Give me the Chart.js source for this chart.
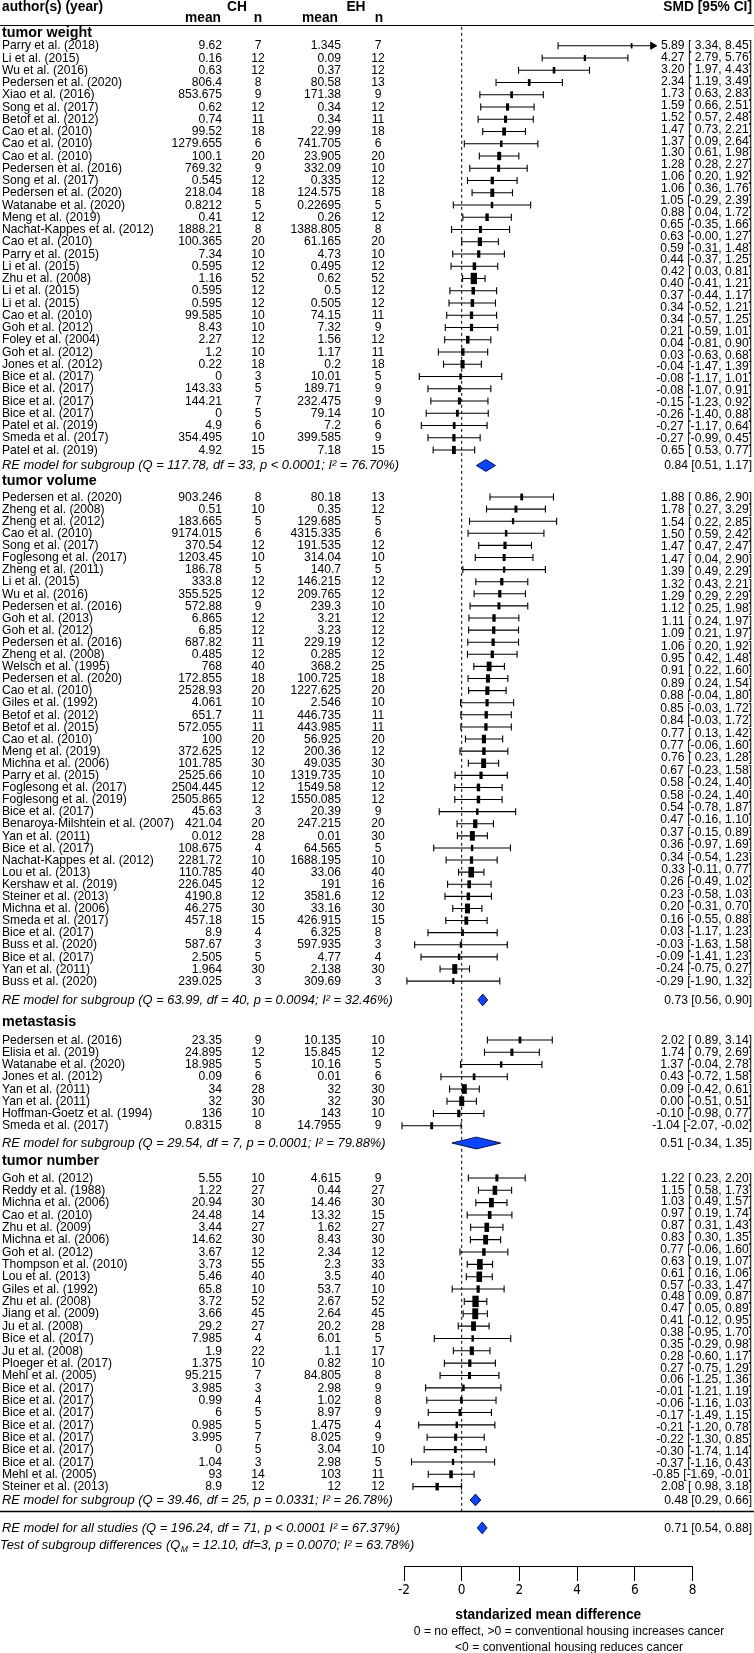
<!DOCTYPE html>
<html>
<head>
<meta charset="utf-8">
<title>Forest plot - conventional vs enriched housing</title>
<script src="https://cdn.jsdelivr.net/npm/chart.js@4.4.0/dist/chart.umd.min.js"></script>
<style>
    html, body { margin: 0; padding: 0; background: #fff; }
    canvas { display: block; }
</style>
</head>
<body>
<canvas id="forest" width="754" height="1653"></canvas>
<script>
// ---- tumor weight ----
const weightAuthors = ['Parry et al. (2018)','Li et al. (2015)','Wu et al. (2016)','Pedersen et al. (2020)','Xiao et al. (2016)','Song et al. (2017)','Betof et al. (2012)','Cao et al. (2010)','Cao et al. (2010)','Cao et al. (2010)','Pedersen et al. (2016)','Song et al. (2017)','Pedersen et al. (2020)','Watanabe et al. (2020)','Meng et al. (2019)','Nachat-Kappes et al. (2012)','Cao et al. (2010)','Parry et al. (2015)','Li et al. (2015)','Zhu et al. (2008)','Li et al. (2015)','Li et al. (2015)','Cao et al. (2010)','Goh et al. (2012)','Foley et al. (2004)','Goh et al. (2012)','Jones et al. (2012)','Bice et al. (2017)','Bice et al. (2017)','Bice et al. (2017)','Bice et al. (2017)','Patel et al. (2019)','Smeda et al. (2017)','Patel et al. (2019)'];
const weightChMean = [9.62,0.16,0.63,806.4,853.675,0.62,0.74,99.52,1279.655,100.1,769.32,0.545,218.04,0.8212,0.41,1888.21,100.365,7.34,0.595,1.16,0.595,0.595,99.585,8.43,2.27,1.2,0.22,0,143.33,144.21,0,4.9,354.495,4.92];
const weightChN = [7,12,12,8,9,12,11,18,6,20,9,12,18,5,12,8,20,10,12,52,12,12,10,10,12,10,18,3,5,7,5,6,10,15];
const weightEhMean = [1.345,0.09,0.37,80.58,171.38,0.34,0.34,22.99,741.705,23.905,332.09,0.335,124.575,0.22695,0.26,1388.805,61.165,4.73,0.495,0.62,0.5,0.505,74.15,7.32,1.56,1.17,0.2,10.01,189.71,232.475,79.14,7.2,399.585,7.18];
const weightEhN = [7,12,12,13,9,12,11,18,6,20,10,12,18,5,12,8,20,10,12,52,12,12,11,9,12,11,18,5,9,9,10,6,9,15];
const weightEst = [5.89,4.27,3.20,2.34,1.73,1.59,1.52,1.47,1.37,1.30,1.28,1.06,1.06,1.05,0.88,0.65,0.63,0.59,0.44,0.42,0.40,0.37,0.34,0.34,0.21,0.04,0.03,-0.04,-0.08,-0.08,-0.15,-0.26,-0.27,-0.27];
const weightLo = [3.34,2.79,1.97,1.19,0.63,0.66,0.57,0.73,0.09,0.61,0.28,0.20,0.36,-0.29,0.04,-0.35,-0.00,-0.31,-0.37,0.03,-0.41,-0.44,-0.52,-0.57,-0.59,-0.81,-0.63,-1.47,-1.17,-1.07,-1.23,-1.40,-1.17,-0.99];
const weightHi = [8.45,5.76,4.43,3.49,2.83,2.51,2.48,2.21,2.64,1.98,2.27,1.92,1.76,2.39,1.72,1.66,1.27,1.48,1.25,0.81,1.21,1.17,1.21,1.25,1.01,0.90,0.68,1.39,1.01,0.91,0.92,0.88,0.64,0.45];

// ---- tumor volume ----
const volumeAuthors = ['Pedersen et al. (2020)','Zheng et al. (2008)','Zheng et al. (2012)','Cao et al. (2010)','Song et al. (2017)','Foglesong et al. (2017)','Zheng et al. (2011)','Li et al. (2015)','Wu et al. (2016)','Pedersen et al. (2016)','Goh et al. (2013)','Goh et al. (2012)','Pedersen et al. (2016)','Zheng et al. (2008)','Welsch et al. (1995)','Pedersen et al. (2020)','Cao et al. (2010)','Giles et al. (1992)','Betof et al. (2012)','Betof et al. (2015)','Cao et al. (2010)','Meng et al. (2019)','Michna et al. (2006)','Parry et al. (2015)','Foglesong et al. (2017)','Foglesong et al. (2019)','Bice et al. (2017)','Benaroya-Milshtein et al. (2007)','Yan et al. (2011)','Bice et al. (2017)','Nachat-Kappes et al. (2012)','Lou et al. (2013)','Kershaw et al. (2019)','Steiner et al. (2013)','Michna et al. (2006)','Smeda et al. (2017)','Bice et al. (2017)','Buss et al. (2020)','Bice et al. (2017)','Yan et al. (2011)','Buss et al. (2020)'];
const volumeChMean = [903.246,0.51,183.665,9174.015,370.54,1203.45,186.78,333.8,355.525,572.88,6.865,6.85,687.82,0.485,768,172.855,2528.93,4.061,651.7,572.055,100,372.625,101.785,2525.66,2504.445,2505.865,45.63,421.04,0.012,108.675,2281.72,110.785,226.045,4190.8,46.275,457.18,8.9,587.67,2.505,1.964,239.025];
const volumeChN = [8,10,5,6,12,10,5,12,12,9,12,12,11,12,40,18,20,10,11,11,20,12,30,10,12,12,3,20,28,4,10,40,12,12,30,15,4,3,5,30,3];
const volumeEhMean = [80.18,0.35,129.685,4315.335,191.535,314.04,140.7,146.215,209.765,239.3,3.21,3.23,229.19,0.285,368.2,100.725,1227.625,2.546,446.735,443.985,56.925,200.36,49.035,1319.735,1549.58,1550.085,20.39,247.215,0.01,64.565,1688.195,33.06,191,3581.6,33.16,426.915,6.325,597.935,4.77,2.138,309.69];
const volumeEhN = [13,12,5,6,12,10,5,12,12,10,12,12,12,12,25,18,20,10,11,11,20,12,30,10,12,12,9,20,30,5,10,40,16,12,30,15,8,3,4,30,3];
const volumeEst = [2.08,1.88,1.78,1.54,1.50,1.47,1.47,1.39,1.32,1.29,1.12,1.11,1.09,1.06,0.95,0.91,0.89,0.88,0.85,0.84,0.77,0.77,0.76,0.67,0.58,0.58,0.54,0.47,0.37,0.36,0.34,0.33,0.26,0.23,0.20,0.16,0.03,-0.03,-0.09,-0.24,-0.29];
const volumeLo = [0.98,0.86,0.27,0.22,0.59,0.47,0.04,0.49,0.43,0.29,0.25,0.24,0.21,0.20,0.42,0.22,0.24,-0.04,-0.03,-0.03,0.13,-0.06,0.23,-0.23,-0.24,-0.24,-0.78,-0.16,-0.15,-0.97,-0.54,-0.11,-0.49,-0.58,-0.31,-0.55,-1.17,-1.63,-1.41,-0.75,-1.90];
const volumeHi = [3.18,2.90,3.29,2.85,2.42,2.47,2.90,2.29,2.21,2.29,1.98,1.97,1.97,1.92,1.48,1.60,1.54,1.80,1.72,1.72,1.42,1.60,1.28,1.58,1.40,1.40,1.87,1.10,0.89,1.69,1.23,0.77,1.02,1.03,0.70,0.88,1.23,1.58,1.23,0.27,1.32];

// ---- metastasis ----
const metAuthors = ['Pedersen et al. (2016)','Elisia et al. (2019)','Watanabe et al. (2020)','Jones et al. (2012)','Yan et al. (2011)','Yan et al. (2011)','Hoffman-Goetz et al. (1994)','Smeda et al. (2017)'];
const metChMean = [23.35,24.895,18.985,0.09,34,32,136,0.8315];
const metChN = [9,12,5,6,28,30,10,8];
const metEhMean = [10.135,15.845,10.16,0.01,32,32,143,14.7955];
const metEhN = [10,12,5,6,30,30,10,9];
const metEst = [2.02,1.74,1.37,0.43,0.09,0.00,-0.10,-1.04];
const metLo = [0.89,0.79,-0.04,-0.72,-0.42,-0.51,-0.98,-2.07];
const metHi = [3.14,2.69,2.78,1.58,0.61,0.51,0.77,-0.02];

// ---- tumor number ----
const numberAuthors = ['Goh et al. (2012)','Reddy et al. (1988)','Michna et al. (2006)','Cao et al. (2010)','Zhu et al. (2009)','Michna et al. (2006)','Goh et al. (2012)','Thompson et al. (2010)','Lou et al. (2013)','Giles et al. (1992)','Zhu et al. (2008)','Jiang et al. (2009)','Ju et al. (2008)','Bice et al. (2017)','Ju et al. (2008)','Ploeger et al. (2017)','Mehl et al. (2005)','Bice et al. (2017)','Bice et al. (2017)','Bice et al. (2017)','Bice et al. (2017)','Bice et al. (2017)','Bice et al. (2017)','Bice et al. (2017)','Mehl et al. (2005)','Steiner et al. (2013)'];
const numberChMean = [5.55,1.22,20.94,24.48,3.44,14.62,3.67,3.73,5.46,65.8,3.72,3.66,29.2,7.985,1.9,1.375,95.215,3.985,0.99,6,0.985,3.995,0,1.04,93,8.9];
const numberChN = [10,27,30,14,27,30,12,55,40,10,52,45,27,4,22,10,7,3,4,5,5,7,5,3,14,12];
const numberEhMean = [4.615,0.44,14.46,13.32,1.62,8.43,2.34,2.3,3.5,53.7,2.67,2.64,20.2,6.01,1.1,0.82,84.805,2.98,1.02,8.97,1.475,8.025,3.04,2.98,103,12];
const numberEhN = [9,27,30,15,27,30,12,33,40,10,52,45,28,5,17,10,8,9,8,9,4,9,10,5,11,12];
const numberEst = [1.22,1.15,1.03,0.97,0.87,0.83,0.77,0.63,0.61,0.57,0.48,0.47,0.41,0.38,0.35,0.28,0.27,0.06,-0.01,-0.06,-0.17,-0.21,-0.22,-0.30,-0.37,-0.85];
const numberLo = [0.23,0.58,0.49,0.19,0.31,0.30,-0.06,0.19,0.16,-0.33,0.09,0.05,-0.12,-0.95,-0.29,-0.60,-0.75,-1.25,-1.21,-1.16,-1.49,-1.20,-1.30,-1.74,-1.16,-1.69];
const numberHi = [2.20,1.73,1.57,1.74,1.43,1.35,1.60,1.07,1.06,1.47,0.87,0.89,0.95,1.70,0.98,1.17,1.29,1.36,1.19,1.03,1.15,0.78,0.85,1.14,0.43,-0.01];

// ---- random-effects summaries ----
const groupTitles = ['tumor weight','tumor volume','metastasis','tumor number'];
const reLabels = [
    'RE model for subgroup (Q = 117.78, df = 33, p < 0.0001; I\u00b2 = 76.70%)',
    'RE model for subgroup (Q = 63.99, df = 40, p = 0.0094; I\u00b2 = 32.46%)',
    'RE model for subgroup (Q = 29.54, df = 7, p = 0.0001; I\u00b2 = 79.88%)',
    'RE model for subgroup (Q = 39.46, df = 25, p = 0.0331; I\u00b2 = 26.78%)'
];
const reEst = [0.84,0.73,0.51,0.48];
const reLo = [0.51,0.56,-0.34,0.29];
const reHi = [1.17,0.90,1.35,0.66];
const allLabel = 'RE model for all studies (Q = 196.24, df = 71, p < 0.0001 I\u00b2 = 67.37%)';
const allEst = 0.71, allLo = 0.54, allHi = 0.88;
// stray line printed at the end of the tumor weight column in the source
const weightExtraText = '0.65 [ 0.53, 0.77]';

const xTicks = [-2, 0, 2, 4, 6, 8];

// ---- layout (row units, 1 unit = 12.25 px) ----
const headRows = [0.69, 37.22, 81.39, 92.73];
const firstRows = [1.694, 38.53, 82.86, 94.12];
const rowStep = [1, 0.988, 1, 1.008];
const reRows = [35.96, 79.59, 91.27, 120.41];
const SEP_ROW = 121.35, ALL_ROW = 122.69, TEST_ROW = 124.12, Y_MAX = 125.8;
const X_CLIP = 6.62;   // right edge of the plotting region
const HALF_DIAMOND = 0.48;

const groups = [
    { authors: weightAuthors, chMean: weightChMean, chN: weightChN, ehMean: weightEhMean, ehN: weightEhN, est: weightEst, lo: weightLo, hi: weightHi },
    { authors: volumeAuthors, chMean: volumeChMean, chN: volumeChN, ehMean: volumeEhMean, ehN: volumeEhN, est: volumeEst, lo: volumeLo, hi: volumeHi },
    { authors: metAuthors, chMean: metChMean, chN: metChN, ehMean: metEhMean, ehN: metEhN, est: metEst, lo: metLo, hi: metHi },
    { authors: numberAuthors, chMean: numberChMean, chN: numberChN, ehMean: numberEhMean, ehN: numberEhN, est: numberEst, lo: numberLo, hi: numberHi }
];
const rowPos = (gi, i) => firstRows[gi] + i * rowStep[gi];

function f2(v) {
    const neg = v < 0 || Object.is(v, -0);
    return (neg ? '-' : '') + Math.abs(v).toFixed(2);
}
function ciText(e, l, h) {
    const pad = (l < 0 || Object.is(l, -0)) ? '' : ' ';
    return f2(e) + ' [' + pad + f2(l) + ', ' + f2(h) + ']';
}
function reText(e, l, h) { return f2(e) + ' [' + f2(l) + ', ' + f2(h) + ']'; }

const groupCi = groups.map(g => g.est.map((e, i) => ciText(e, g.lo[i], g.hi[i])));
// right-hand column as printed in the figure (it is shifted by one line in places)
const printedCols = [
    groupCi[0].concat([weightExtraText]),
    groupCi[1].slice(1),
    groupCi[2],
    groupCi[3].concat([groupCi[1][0]])
];

// flatten study rows
const rows = [];
groups.forEach((g, gi) => g.est.forEach((e, i) => {
    rows.push({ y: rowPos(gi, i), est: e, lo: g.lo[i], hi: g.hi[i] });
}));

// box size from precision
const prec = rows.map(r => 1 / (r.hi - r.lo));
const pMin = Math.min(...prec), pMax = Math.max(...prec);
const boxScale = prec.map(p => (p - pMin) / (pMax - pMin));

const whiskerData = [];
const capData = [];
const arrowData = [];
rows.forEach(r => {
    const right = Math.min(r.hi, X_CLIP);
    whiskerData.push({ x: r.lo, y: r.y }, { x: right, y: r.y }, { x: null, y: null });
    capData.push({ x: r.lo, y: r.y });
    if (r.hi > X_CLIP) arrowData.push({ x: X_CLIP, y: r.y });
    else capData.push({ x: r.hi, y: r.y });
});

function diamond(e, l, h, y) {
    return [
        { x: l, y: y }, { x: e, y: y - HALF_DIAMOND }, { x: h, y: y },
        { x: e, y: y + HALF_DIAMOND }, { x: l, y: y }
    ];
}

const datasets = [
    {
        label: 'zero', data: [{ x: 0, y: 0.15 }, { x: 0, y: SEP_ROW }], showLine: true,
        borderColor: '#000', borderWidth: 1, borderDash: [3, 3], pointRadius: 0, order: 5
    },
    {
        label: 'ci', data: whiskerData, showLine: true, spanGaps: false,
        borderColor: '#000', borderWidth: 1.1, pointRadius: 0, order: 4, clip: false
    },
    {
        label: 'caps', data: capData, pointStyle: 'line', rotation: 90, pointRadius: 3.5,
        borderColor: '#000', pointBorderWidth: 1.1, order: 3, clip: false
    },
    {
        label: 'arrow', data: arrowData, pointStyle: 'triangle', rotation: 90, pointRadius: 4,
        backgroundColor: '#000', borderColor: '#000', pointBorderWidth: 1, order: 3, clip: false
    },
    {
        label: 'boxes', data: rows.map(r => ({ x: r.est, y: r.y })),
        pointStyle: 'line', rotation: 90,
        pointRadius: boxScale.map(s => 2.7 + 3.0 * s),
        pointBorderWidth: boxScale.map(s => 1.7 + 4.6 * s),
        borderColor: '#000', order: 1, clip: false
    }
];
reEst.forEach((e, gi) => {
    datasets.push({
        label: 're' + gi, data: diamond(e, reLo[gi], reHi[gi], reRows[gi]), showLine: true,
        fill: 'shape', backgroundColor: '#0a44ff', borderColor: '#00125e', borderWidth: 1,
        pointRadius: 0, tension: 0, order: 0
    });
});
datasets.push({
    label: 'all', data: diamond(allEst, allLo, allHi, ALL_ROW), showLine: true,
    fill: 'shape', backgroundColor: '#0a44ff', borderColor: '#00125e', borderWidth: 1,
    pointRadius: 0, tension: 0, order: 0
});

// ---- text drawing ----
const FAM = '"Liberation Sans", Arial, Helvetica, sans-serif';
const F_BODY = '13.5px ' + FAM;
const F_BOLD = 'bold 14px ' + FAM;
const F_HEAD = 'bold 14.5px ' + FAM;
const F_ITAL = 'italic 13.5px ' + FAM;
const SX = {};

function fitScale(ctx, font, sample, target) {
    ctx.font = font;
    return target / ctx.measureText(sample).width;
}
function txt(ctx, s, x, y, align, font, sx) {
    ctx.save();
    ctx.font = font;
    ctx.textBaseline = 'middle';
    ctx.textAlign = align;
    ctx.translate(x, y);
    ctx.scale(sx, 1);
    ctx.fillText(s, 0, 0);
    ctx.restore();
}
function hline(ctx, y, w) {
    ctx.save();
    ctx.strokeStyle = '#000';
    ctx.lineWidth = w;
    ctx.beginPath();
    ctx.moveTo(0, y);
    ctx.lineTo(754, y);
    ctx.stroke();
    ctx.restore();
}

const textPlugin = {
    id: 'forestText',
    afterDraw(chart) {
        const ctx = chart.ctx;
        const ys = chart.scales.y;
        const py = v => ys.getPixelForValue(v);
        if (!SX.body) {
            SX.body = fitScale(ctx, F_BODY, 'Benaroya-Milshtein et al. (2007)', 172);
            SX.bold = fitScale(ctx, F_BOLD, 'author(s) (year)', 101);
            SX.head = fitScale(ctx, F_HEAD, 'tumor weight', 90);
            SX.ital = fitScale(ctx, F_ITAL, reLabels[0], 397);
        }
        ctx.save();
        ctx.fillStyle = '#000';

        // header
        txt(ctx, 'author(s) (year)', 2, 7, 'left', F_BOLD, SX.bold);
        txt(ctx, 'CH', 237, 7, 'center', F_BOLD, SX.bold);
        txt(ctx, 'EH', 356, 7, 'center', F_BOLD, SX.bold);
        txt(ctx, 'SMD [95% CI]', 752, 7, 'right', F_BOLD, SX.bold);
        txt(ctx, 'mean', 221, 18.5, 'right', F_BOLD, SX.bold);
        txt(ctx, 'n', 258, 18.5, 'center', F_BOLD, SX.bold);
        txt(ctx, 'mean', 338, 18.5, 'right', F_BOLD, SX.bold);
        txt(ctx, 'n', 379, 18.5, 'center', F_BOLD, SX.bold);
        hline(ctx, 25.5, 1);

        groups.forEach((g, gi) => {
            txt(ctx, groupTitles[gi], 2, py(headRows[gi]), 'left', F_HEAD, SX.head);
            g.authors.forEach((a, i) => {
                const y = py(rowPos(gi, i));
                txt(ctx, a, 2, y, 'left', F_BODY, SX.body);
                txt(ctx, String(g.chMean[i]), 222, y, 'right', F_BODY, SX.body);
                txt(ctx, String(g.chN[i]), 258, y, 'center', F_BODY, SX.body);
                txt(ctx, String(g.ehMean[i]), 341, y, 'right', F_BODY, SX.body);
                txt(ctx, String(g.ehN[i]), 378, y, 'center', F_BODY, SX.body);
            });
            const col = printedCols[gi];
            const y0 = py(rowPos(gi, 0));
            const y1 = py(rowPos(gi, g.authors.length - 1));
            col.forEach((s, k) => {
                txt(ctx, s, 752, y0 + (y1 - y0) * k / (col.length - 1), 'right', F_BODY, SX.body);
            });
            const yr = py(reRows[gi]);
            txt(ctx, reLabels[gi], 2, yr, 'left', F_ITAL, SX.ital);
            txt(ctx, reText(reEst[gi], reLo[gi], reHi[gi]), 752, yr, 'right', F_BODY, SX.body);
        });

        hline(ctx, Math.round(py(SEP_ROW)) + 0.5, 1.3);
        const ya = py(ALL_ROW);
        txt(ctx, allLabel, 2, ya, 'left', F_ITAL, SX.ital);
        txt(ctx, reText(allEst, allLo, allHi), 752, ya, 'right', F_BODY, SX.body);

        // test of subgroup differences, with subscript M
        const yt = py(TEST_ROW);
        const partA = 'Test of subgroup differences (Q';
        const partB = ' = 12.10, df=3, p = 0.0070; I\u00b2 = 63.78%)';
        ctx.font = F_ITAL;
        const wA = ctx.measureText(partA).width * SX.ital;
        txt(ctx, partA, 0, yt, 'left', F_ITAL, SX.ital);
        const fSub = 'italic 9px ' + FAM;
        txt(ctx, 'M', wA + 0.5, yt + 4, 'left', fSub, SX.ital);
        ctx.font = fSub;
        const wM = ctx.measureText('M').width * SX.ital;
        txt(ctx, partB, wA + wM + 1, yt, 'left', F_ITAL, SX.ital);

        // axis title and notes
        const xs = chart.scales.x;
        const cx = (xs.left + xs.right) / 2;
        txt(ctx, 'standarized mean difference', cx, 1615, 'center', F_BOLD, SX.bold);
        txt(ctx, '0 = no effect, >0 = conventional housing increases cancer', 569, 1631, 'center', F_BODY, SX.body);
        txt(ctx, '<0 = conventional housing reduces cancer', 569, 1647, 'center', F_BODY, SX.body);
        ctx.restore();
    }
};

new Chart(document.getElementById('forest'), {
    type: 'scatter',
    data: { datasets: datasets },
    options: {
        responsive: false,
        devicePixelRatio: 1,
        animation: false,
        events: [],
        layout: { padding: { left: 404, right: 61.5, top: 25, bottom: 0 } },
        plugins: {
            legend: { display: false },
            tooltip: { enabled: false }
        },
        scales: {
            x: {
                type: 'linear',
                min: xTicks[0],
                max: xTicks[xTicks.length - 1],
                afterBuildTicks: s => { s.ticks = xTicks.map(v => ({ value: v })); },
                afterFit: s => { s.height = 87; },
                ticks: {
                    color: '#000',
                    padding: 1,
                    maxRotation: 0,
                    font: { family: '"Liberation Sans Narrow", "DejaVu Sans Condensed", "Liberation Sans", sans-serif', size: 13.5 }
                },
                grid: { drawOnChartArea: false, drawTicks: true, tickLength: 15, color: '#000', lineWidth: 1 },
                border: { display: true, color: '#000', width: 1 }
            },
            y: { type: 'linear', min: 0, max: Y_MAX, reverse: true, display: false }
        }
    },
    plugins: [textPlugin]
});
</script>
</body>
</html>
